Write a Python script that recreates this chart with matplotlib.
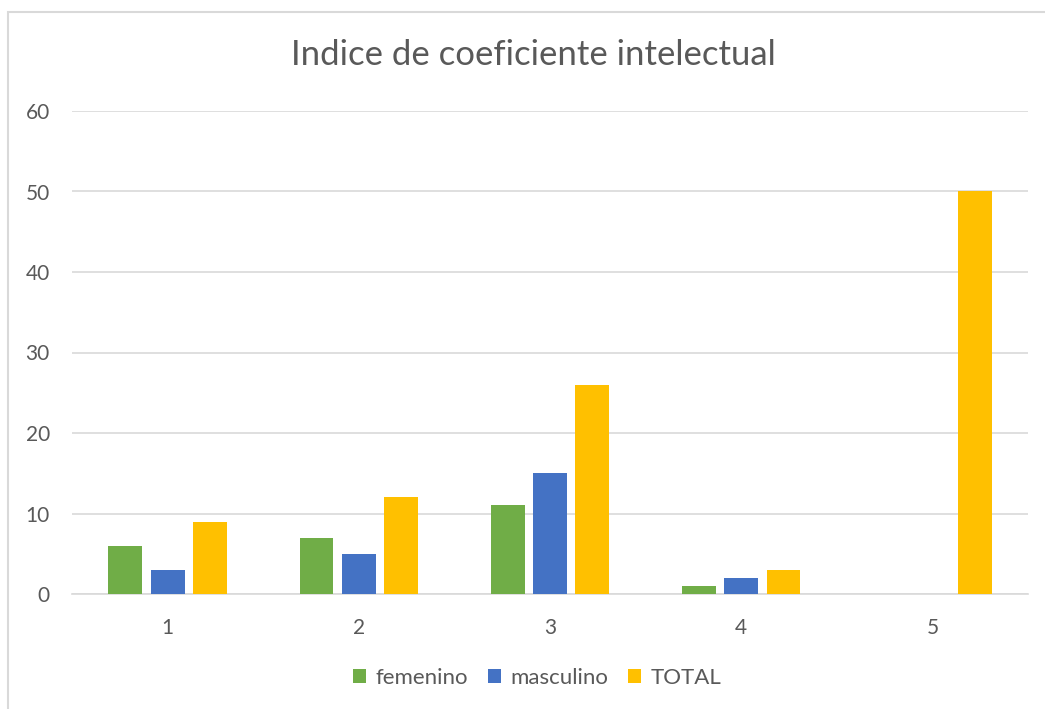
import matplotlib
matplotlib.use('Agg')
import matplotlib.pyplot as plt
import numpy as np
from matplotlib.patches import Rectangle

categories = ['1', '2', '3', '4', '5']
femenino = [6, 7, 11, 1, 0]
masculino = [3, 5, 15, 2, 0]
total = [9, 12, 26, 3, 50]

plt.rcParams['font.family'] = ['Lato', 'DejaVu Sans']
text_color = '#595959'

fig = plt.figure(figsize=(10.45, 7.09), dpi=100)
ax = fig.add_axes([72 / 1045, 1 - 594 / 709, (1028 - 72) / 1045, (594 - 111) / 709])

x = np.arange(1, len(categories) + 1)
w = 0.177
off = 0.221
ax.bar(x - off, femenino, w, color='#70ad47', label='femenino', zorder=3)
ax.bar(x, masculino, w, color='#4472c4', label='masculino', zorder=3)
ax.bar(x + off, total, w, color='#ffc000', label='TOTAL', zorder=3)

ax.set_xlim(0.5, 5.5)
ax.set_ylim(0, 60)
ax.set_yticks(range(0, 61, 10))
ax.set_xticks(x)
ax.set_xticklabels(categories)
ax.grid(axis='y', color='#d9d9d9', linewidth=1.2, zorder=0)
for s in ['top', 'right', 'left']:
    ax.spines[s].set_visible(False)
ax.spines['bottom'].set_color('#d9d9d9')
ax.spines['bottom'].set_linewidth(1.2)
ax.tick_params(length=0, labelsize=15, colors=text_color)
ax.tick_params(axis='y', pad=16)
ax.tick_params(axis='x', pad=17)

fig.text(533 / 1045, 1 - 55 / 709, 'Indice de coeficiente intelectual',
         ha='center', va='center', fontsize=25, color=text_color)

ax.legend(loc='center', bbox_to_anchor=(537 / 1045, 1 - 678 / 709), bbox_transform=fig.transFigure,
          ncol=3, frameon=False, fontsize=16, labelcolor=text_color,
          handlelength=0.6, handleheight=0.6, handletextpad=0.4, columnspacing=0.9)

fig.patches.append(Rectangle((8 / 1045, -0.1), 1.1, 1 - 12 / 709 + 0.1,
                             transform=fig.transFigure, fill=False,
                             edgecolor='#d9d9d9', linewidth=1.5))

fig.savefig('out.png', dpi=100)
